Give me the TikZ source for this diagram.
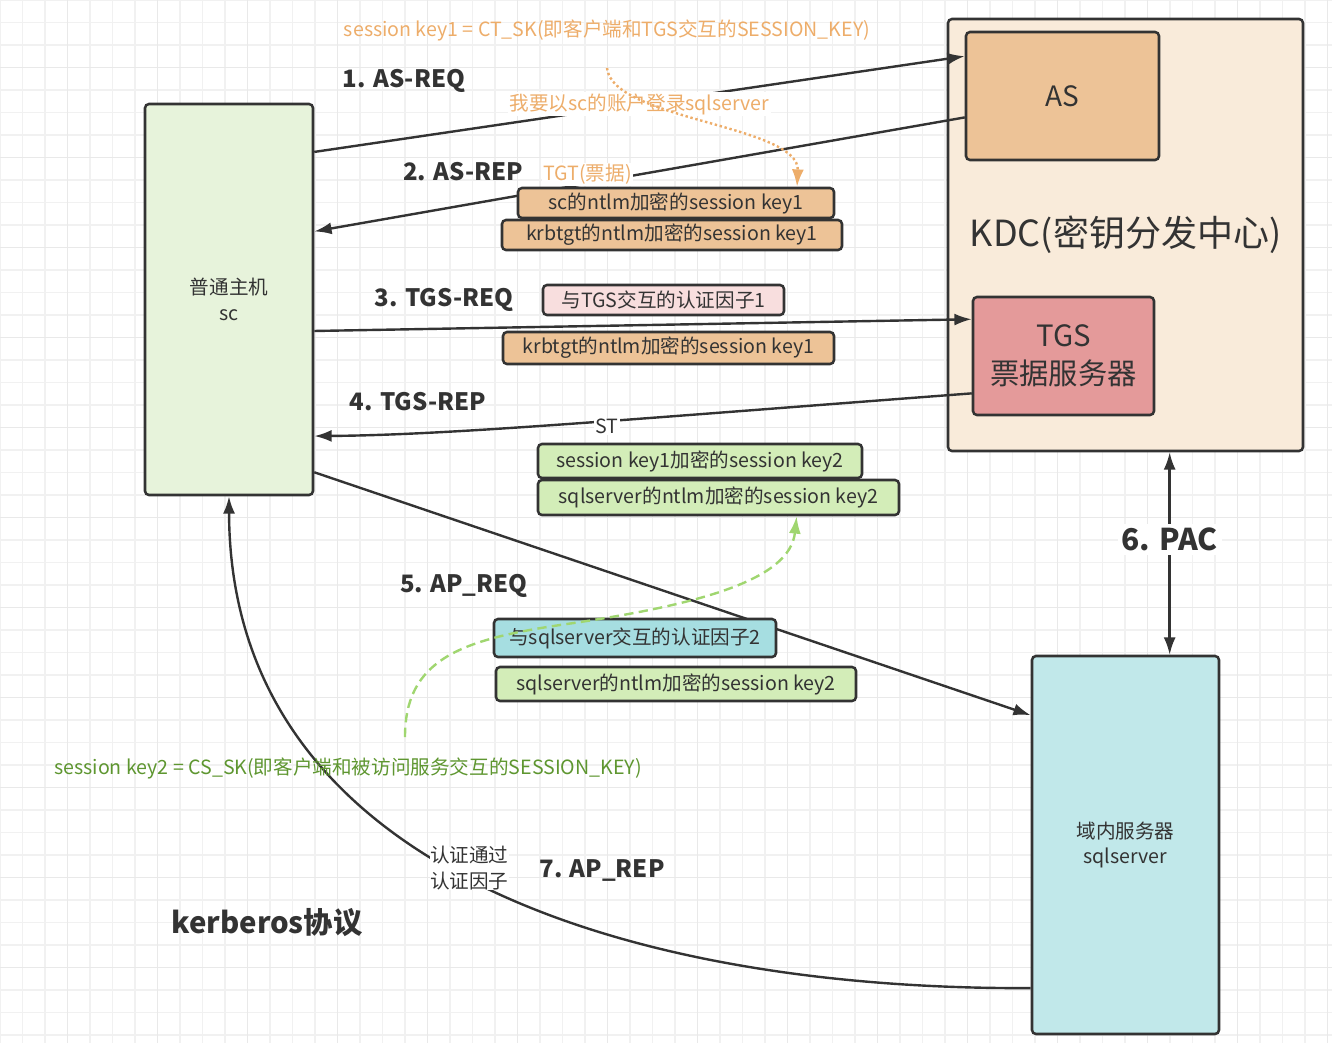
\documentclass[tikz,border=0pt]{standalone}
\usepackage{fontspec}
\setmainfont{Noto Sans CJK SC}
\usetikzlibrary{arrows.meta,calc}
\definecolor{kbdark}{HTML}{333333}
\definecolor{kbgrid}{HTML}{F1F1F1}
\definecolor{kbgridmajor}{HTML}{E9E9E9}
\definecolor{kbclient}{HTML}{E7F3DB}
\definecolor{kbkdc}{HTML}{F9EBDA}
\definecolor{kbas}{HTML}{EDC397}
\definecolor{kbtgs}{HTML}{E49A9A}
\definecolor{kbsql}{HTML}{C1E8EA}
\definecolor{kbpink}{HTML}{F8DEDE}
\definecolor{kbgreen}{HTML}{D3EDB8}
\definecolor{kbcyan}{HTML}{A6DEE1}
\definecolor{kborange}{HTML}{EDAD6A}
\definecolor{kbtextgreen}{HTML}{5E9630}
\definecolor{kbdash}{HTML}{A0D670}
\tikzstyle{box} = [draw=kbdark,line width=1.9pt,rounded corners=3pt,inner sep=0pt,text=kbdark,font=\fontsize{14.7}{19}\selectfont]
\tikzstyle{arrow} = [line width=1.8pt,draw=kbdark,-{Latex[length=13pt,width=9pt]}]
\tikzstyle{msg} = [text=kbdark,font=\bfseries\fontsize{18}{22}\selectfont,inner sep=1pt]
\tikzstyle{note} = [font=\fontsize{14.7}{19}\selectfont,inner sep=1pt]
\tikzset{sz/.style 2 args={minimum width=#1*0.75pt,minimum height=#2*0.75pt}}

\begin{document}
\begin{tikzpicture}[x=0.75pt,y=-0.75pt]
\useasboundingbox (0,0) rectangle (1332,1043);
% Grid
\foreach \g in {0,22.5,...,1332} \draw[kbgrid,line width=1pt] (\g,0) -- (\g,1043);
\foreach \g in {0,22.5,...,1043} \draw[kbgrid,line width=1pt] (0,\g) -- (1332,\g);
\foreach \g in {67.5,157.5,...,1332} \draw[kbgridmajor,line width=1pt] (\g,0) -- (\g,1043);
\foreach \g in {67.5,157.5,...,1043} \draw[kbgridmajor,line width=1pt] (0,\g) -- (1332,\g);

% Hosts
\node[box,fill=kbclient,sz={168}{391},align=center] (client) at (229,299.5) {普通主机\\sc};
\node[box,fill=kbkdc,sz={355}{432},font=\fontsize{27}{34}\selectfont] (kdc) at (1125.5,235) {KDC(密钥分发中心)};
\node[box,fill=kbas,sz={193}{128},font=\fontsize{21}{26}\selectfont] (as) at (1062.5,96) {AS};
\node[box,fill=kbtgs,sz={181}{118},align=center,font=\fontsize{22}{28.5}\selectfont] (tgs) at (1063.5,356) {TGS\\票据服务器};
\node[box,fill=kbsql,sz={187}{378},align=center] (sqlsrv) at (1125.5,845) {域内服务器\\sqlserver};

% Messages
\draw[arrow] ($(client.north east)!0.125!(client.south east)$) -- ($(as.north west)!0.195!(as.south west)$)
  node[note,midway,fill=white,text=kborange] {我要以sc的账户登录sqlserver};
\draw[arrow] ($(as.north west)!0.664!(as.south west)$) -- ($(client.north east)!0.327!(client.south east)$)
  node[note,pos=0.58,yshift=7pt,fill=white,text=kborange] {TGT(票据)};
\draw[arrow] ($(client.north east)!0.58!(client.south east)$) -- ($(tgs.north west)!0.195!(tgs.south west)$);
\draw[arrow] ($(tgs.north west)!0.81!(tgs.south west)$) .. controls (620,420) and (450,435) .. ($(client.north east)!0.847!(client.south east)$)
  node[note,pos=0.43,yshift=-4pt,fill=white,text=kbdark] {ST};
\draw[arrow] ($(client.north east)!0.939!(client.south east)$) -- ($(sqlsrv.north west)!0.159!(sqlsrv.south west)$);
\coordinate (pacx) at ($(sqlsrv.north west)!0.733!(sqlsrv.north east)$);
\draw[arrow,{Latex[length=13pt,width=9pt]}-{Latex[length=13pt,width=9pt]}] (kdc.south -| pacx) -- (sqlsrv.north -| pacx)
  node[msg,pos=0.43,fill=white,inner sep=3pt,font=\bfseries\fontsize{22.5}{28}\selectfont] {6. PAC};
\draw[arrow] ($(sqlsrv.north west)!0.876!(sqlsrv.south west)$) .. controls (650,990) and (230,880) .. (client.south)
  node[note,pos=0.52,yshift=7pt,fill=white,text=kbdark,align=center,inner sep=0pt] {认证通过\\认证因子};

% Tickets
\node[box,fill=kbas,sz={316}{30}] (skbox) at (676,203) {sc的ntlm加密的session key1};
\node[box,fill=kbas,sz={340}{30}] (tgtbox) at (672,235) {krbtgt的ntlm加密的session key1};
\node[box,fill=kbpink,sz={241}{30}] (auth1) at (663.5,300) {与TGS交互的认证因子1};
\node[box,fill=kbas,sz={331}{32}] (tgtbox2) at (668.5,348) {krbtgt的ntlm加密的session key1};
\node[box,fill=kbgreen,sz={324}{34}] (sk2box) at (700,461) {session key1加密的session key2};
\node[box,fill=kbgreen,sz={361}{35}] (stbox) at (718.5,497.5) {sqlserver的ntlm加密的session key2};
\node[box,fill=kbcyan,sz={282}{38}] (auth2) at (635,638) {与sqlserver交互的认证因子2};
\node[box,fill=kbgreen,sz={360}{34}] (stbox2) at (676,684) {sqlserver的ntlm加密的session key2};

% Step labels
\node[msg] (req1) at (404,81) {1. AS-REQ};
\node[msg] (rep2) at (463,172) {2. AS-REP};
\node[msg] (req3) at (444,300) {3. TGS-REQ};
\node[msg] (rep4) at (418,402) {4. TGS-REP};
\node[msg] (req5) at (464,586) {5. AP\_REQ};
\node[msg] (rep7) at (602,871) {7. AP\_REP};
\node[msg,font=\bfseries\fontsize{22}{26}\selectfont] (title) at (267,923) {kerberos协议};

% Session keys
\node[note,text=kborange] (key1txt) at (607,30) {session key1 = CT\_SK(即客户端和TGS交互的SESSION\_KEY)};
\node[note,text=kbtextgreen] (key2txt) at (348,768) {session key2 = CS\_SK(即客户端和被访问服务交互的SESSION\_KEY)};
\coordinate (dotstart) at (607,68);
\draw[kborange,line width=1.8pt,dotted,-{Latex[length=13pt,width=9pt]}] (dotstart) .. controls (612,120) and (800,125) .. ($(skbox.north west)!0.88!(skbox.north east)$);
\coordinate (dashstart) at (405,737);
\draw[kbdash,line width=1.8pt,dash pattern=on 7pt off 4pt,-{Latex[length=13pt,width=9pt]}] (dashstart) .. controls (405,660) and (460,640) .. (560,625)
  .. controls (700,605) and (790,580) .. ($(stbox.south west)!0.715!(stbox.south east)$);
\end{tikzpicture}
\end{document}
